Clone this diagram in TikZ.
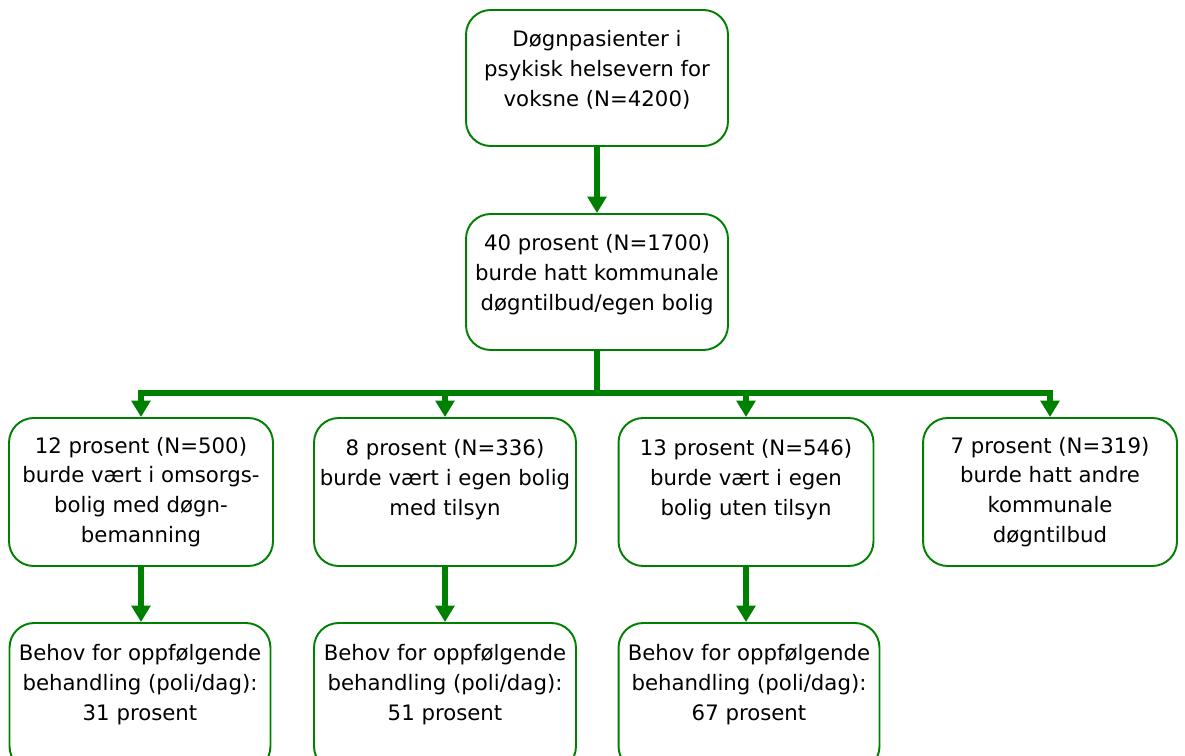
\documentclass[tikz,border=0pt]{standalone}
\usepackage{fontspec}
\setmainfont{DejaVu Sans}
\usepackage{xcolor}
\usepackage{tikz}
\usetikzlibrary{arrows.meta}
\usetikzlibrary{calc}

\definecolor{flowgreen}{RGB}{0,128,0}

\tikzset{
  box/.style={draw=flowgreen, line width=1.1pt, rounded corners=14pt, fill=white,
    align=center, inner xsep=0pt, inner ysep=0pt,
    minimum width=5.24cm, minimum height=2.96cm,
    font=\fontsize{12.1}{17}\selectfont},
  flow/.style={draw=flowgreen, line width=3pt, -{Triangle[width=10.6pt,length=9.4pt]}},
}

\begin{document}
\begin{tikzpicture}[x=0.02cm, y=-0.02cm]
			% Frame of the picture (bottom row is cut off)
			\clip (0,0) rectangle (1185,756);

			% Top two boxes
			\node[box, minimum height=2.72cm] (top) at (597,78) {Døgnpasienter i\\ psykisk helsevern for\\ voksne (N=4200)\\[-6pt] ~};
			\node[box, minimum height=2.72cm] (mid) at (597,282) {40 prosent (N=1700)\\ burde hatt kommunale\\ døgntilbud/egen bolig\\[-6pt] ~};

			% Second level
			\node[box, minimum width=5.28cm] (r1) at (141,492) {12 prosent (N=500)\\ burde vært i omsorgs-\\ bolig med døgn-\\ bemanning};
			\node[box] (r2) at (445,492) {8 prosent (N=336)\\ burde vært i egen bolig\\ med tilsyn\\ ~};
			\node[box, minimum width=5.1cm] (r3) at (746,492) {13 prosent (N=546)\\ burde vært i egen\\ bolig uten tilsyn\\ ~};
			\node[box, minimum width=5.08cm] (r4) at (1050,492) {7 prosent (N=319)\\ burde hatt andre\\ kommunale\\ døgntilbud};

			% Follow-up treatment
			\node[box, minimum width=5.22cm] (b1) at (140,697) {Behov for oppfølgende\\ behandling (poli/dag):\\ 31 prosent\\ ~};
			\node[box] (b2) at (445,697) {Behov for oppfølgende\\ behandling (poli/dag):\\ 51 prosent\\ ~};
			\node[box, minimum width=5.22cm] (b3) at (749,697) {Behov for oppfølgende\\ behandling (poli/dag):\\ 67 prosent\\ ~};

			% Arrows
			\coordinate (split) at (597,393);
			\draw[flow] (top) -- (mid);
			\draw[flowgreen, line width=3pt] (mid.south) -- (split);
			\foreach \n in {r1,r2,r3,r4}
				\draw[flow] (split) -| (\n.north);
			\foreach \n in {1,2,3}
				\draw[flow] (r\n.south) -- (r\n.south |- b\n.north);
		\end{tikzpicture}
\end{document}
